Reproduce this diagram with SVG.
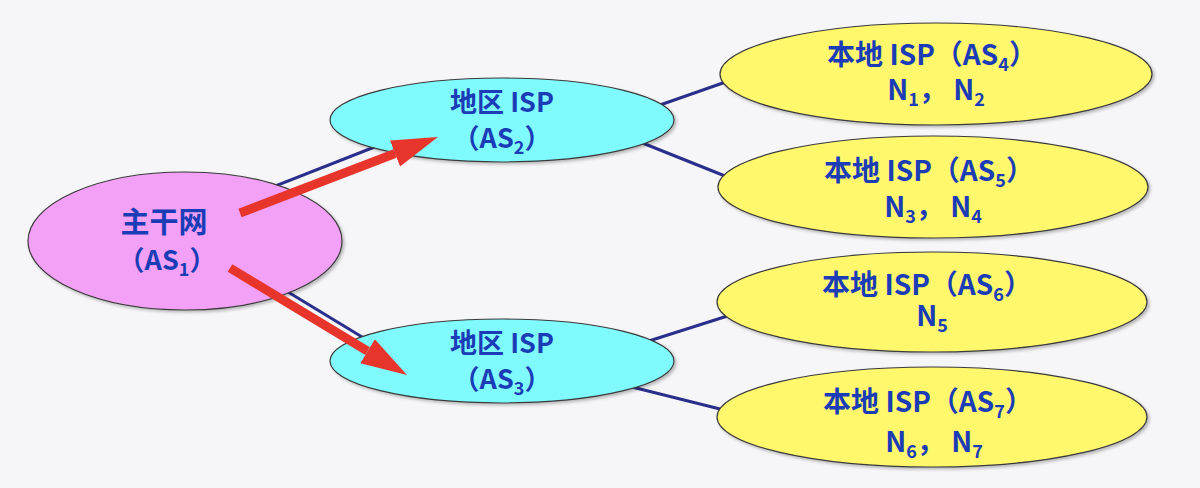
<svg xmlns="http://www.w3.org/2000/svg" width="1200" height="488" viewBox="0 0 1200 488">
  <defs>
    <style>
      .node { stroke: #3a3a3a; stroke-width: 1.2; filter: url(#sh); }
      .as1 { fill: #f3a1f6; }
      .reg { fill: #80fbfd; }
      .loc { fill: #fff86c; }
      .lbl { font-family: "Noto Sans CJK SC", "Liberation Sans", sans-serif; font-weight: bold; font-size: 27px; fill: #1a3cb6; text-anchor: middle; }
      .big { font-size: 29px; }
      .mid { font-size: 28px; }
      .link { stroke: #2b2f8c; stroke-width: 3; fill: none; }
      .red { stroke: #e8352b; stroke-width: 9; fill: none; marker-end: url(#head); }
    </style>
    <filter id="sh" x="-10%" y="-20%" width="120%" height="150%">
      <feDropShadow dx="2" dy="2" stdDeviation="1.5" flood-color="#000" flood-opacity="0.25"/>
    </filter>
    <marker id="head" markerUnits="userSpaceOnUse" markerWidth="48" markerHeight="30" refX="0" refY="14" orient="auto">
      <path d="M0,0 L46,14 L0,28 z" fill="#e8352b"/>
    </marker>
  </defs>
  <rect x="0" y="0" width="1200" height="488" fill="#f6f6f8"/>

  <g id="links">
    <line class="link" x1="250" y1="196" x2="400" y2="137"/>
    <line class="link" x1="260" y1="275" x2="400" y2="360"/>
    <line class="link" x1="640" y1="112" x2="740" y2="77"/>
    <line class="link" x1="630" y1="138" x2="740" y2="182"/>
    <line class="link" x1="630" y1="347" x2="740" y2="312"/>
    <line class="link" x1="620" y1="384" x2="740" y2="414"/>
  </g>

  <g id="as1">
    <ellipse class="node as1" cx="185" cy="241" rx="157" ry="69"/>
    <text class="lbl big" x="164" y="233">主干网</text>
    <text class="lbl" x="167" y="270">（AS<tspan font-size="18" dy="6">1</tspan><tspan dy="-6">）</tspan></text>
  </g>
  <g id="as2">
    <ellipse class="node reg" cx="502" cy="120" rx="172" ry="42"/>
    <text class="lbl" x="502" y="112">地区 ISP</text>
    <text class="lbl" x="502" y="148">（AS<tspan font-size="18" dy="6">2</tspan><tspan dy="-6">）</tspan></text>
  </g>
  <g id="as3">
    <ellipse class="node reg" cx="502" cy="361" rx="172" ry="42"/>
    <text class="lbl" x="502" y="353">地区 ISP</text>
    <text class="lbl" x="502" y="389">（AS<tspan font-size="18" dy="6">3</tspan><tspan dy="-6">）</tspan></text>
  </g>
  <g id="as4">
    <ellipse class="node loc" cx="936" cy="74" rx="216" ry="51"/>
    <text class="lbl mid" x="932" y="65">本地 ISP（AS<tspan font-size="18" dy="6">4</tspan><tspan dy="-6">）</tspan></text>
    <text class="lbl mid" x="936" y="100">N<tspan font-size="18" dy="6">1</tspan><tspan dy="-6">， N</tspan><tspan font-size="18" dy="6">2</tspan></text>
  </g>
  <g id="as5">
    <ellipse class="node loc" cx="933" cy="187" rx="215" ry="51"/>
    <text class="lbl mid" x="929" y="181">本地 ISP（AS<tspan font-size="18" dy="6">5</tspan><tspan dy="-6">）</tspan></text>
    <text class="lbl mid" x="933" y="217">N<tspan font-size="18" dy="6">3</tspan><tspan dy="-6">， N</tspan><tspan font-size="18" dy="6">4</tspan></text>
  </g>
  <g id="as6">
    <ellipse class="node loc" cx="932" cy="302" rx="215" ry="50"/>
    <text class="lbl mid" x="927" y="295">本地 ISP（AS<tspan font-size="18" dy="6">6</tspan><tspan dy="-6">）</tspan></text>
    <text class="lbl mid" x="932" y="326">N<tspan font-size="18" dy="6">5</tspan></text>
  </g>
  <g id="as7">
    <ellipse class="node loc" cx="932" cy="417" rx="215" ry="50"/>
    <text class="lbl mid" x="928" y="412">本地 ISP（AS<tspan font-size="18" dy="6">7</tspan><tspan dy="-6">）</tspan></text>
    <text class="lbl mid" x="934" y="452">N<tspan font-size="18" dy="6">6</tspan><tspan dy="-6">， N</tspan><tspan font-size="18" dy="6">7</tspan></text>
  </g>

  <g id="arrows">
    <line class="red" x1="240" y1="213" x2="395" y2="153.5"/>
    <line class="red" x1="230" y1="268" x2="367.6" y2="351.2"/>
  </g>
</svg>
